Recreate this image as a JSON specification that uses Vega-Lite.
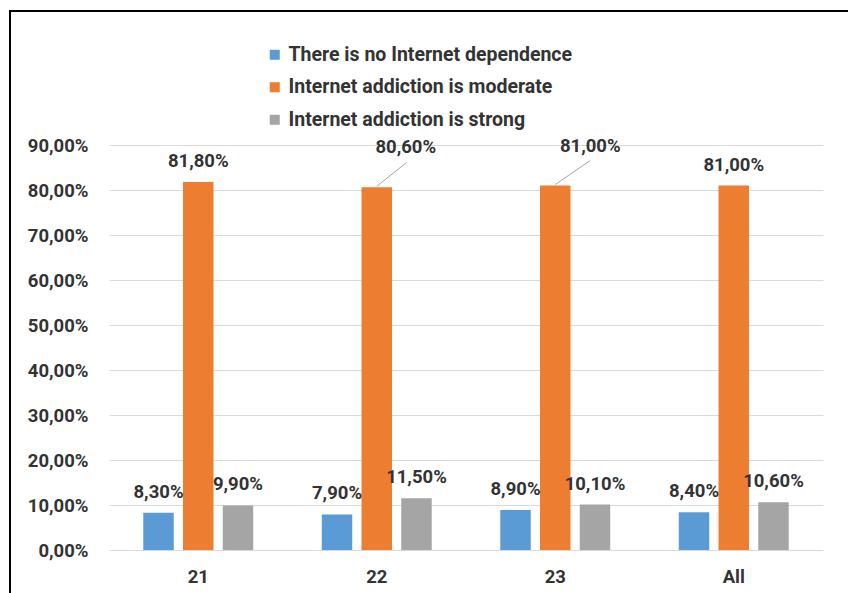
{
  "$schema": "https://vega.github.io/schema/vega-lite/v6.json",
  "width": 840,
  "height": 600,
  "padding": {"left": 10, "top": 11, "right": 0, "bottom": 0},
  "autosize": {"type": "pad"},
  "background": "#ffffff",
  "config": {
    "locale": {"number": {"decimal": ",", "thousands": " ", "grouping": [3], "currency": ["", ""]}},
    "view": {"stroke": "#000000", "strokeWidth": 2},
    "font": "Roboto",
    "text": {"font": "Roboto", "fontSize": 18.5, "fontWeight": "bold", "fill": "#333333"}
  },
  "data": {
    "values": [
      {"group": "21", "series": "There is no Internet dependence", "value": 0.083},
      {"group": "21", "series": "Internet addiction is moderate", "value": 0.818},
      {"group": "21", "series": "Internet addiction is strong", "value": 0.099},
      {"group": "22", "series": "There is no Internet dependence", "value": 0.079},
      {"group": "22", "series": "Internet addiction is moderate", "value": 0.806},
      {"group": "22", "series": "Internet addiction is strong", "value": 0.115},
      {"group": "23", "series": "There is no Internet dependence", "value": 0.089},
      {"group": "23", "series": "Internet addiction is moderate", "value": 0.81},
      {"group": "23", "series": "Internet addiction is strong", "value": 0.101},
      {"group": "All", "series": "There is no Internet dependence", "value": 0.084},
      {"group": "All", "series": "Internet addiction is moderate", "value": 0.81},
      {"group": "All", "series": "Internet addiction is strong", "value": 0.106}
    ]
  },
  "encoding": {
    "x": {
      "field": "group", "type": "nominal", "sort": ["21", "22", "23", "All"],
      "scale": {"range": [99, 813], "paddingInner": 0.384, "paddingOuter": 0.192},
      "axis": {"title": null, "labelAngle": 0, "domain": false, "ticks": false, "grid": false, "offset": -61, "labelPadding": 17, "labelFontSize": 18.5, "labelFontWeight": "bold", "labelColor": "#333333", "labelFont": "Roboto"}
    },
    "xOffset": {
      "field": "series", "type": "nominal",
      "sort": ["There is no Internet dependence", "Internet addiction is moderate", "Internet addiction is strong"],
      "scale": {"paddingInner": 0.233}
    },
    "y": {
      "field": "value", "type": "quantitative",
      "scale": {"domain": [0, 0.9], "range": [539, 134], "nice": false, "zero": true},
      "axis": {"title": null, "format": ".2%", "values": [0, 0.1, 0.2, 0.3, 0.4, 0.5, 0.6, 0.7, 0.8, 0.9], "offset": -99, "domain": false, "ticks": false, "labelPadding": 21, "gridColor": "#D9D9D9", "gridWidth": 1, "labelFontSize": 18.5, "labelFontWeight": "bold", "labelColor": "#333333", "labelFont": "Roboto"}
    }
  },
  "layer": [
    {
      "mark": {"type": "bar"},
      "encoding": {
        "color": {
          "field": "series", "type": "nominal",
          "scale": {"domain": ["There is no Internet dependence", "Internet addiction is moderate", "Internet addiction is strong"], "range": ["#5B9BD5", "#ED7D31", "#A5A5A5"]},
          "legend": {"title": null, "orient": "none", "direction": "vertical", "legendX": 255, "legendY": 34, "symbolType": "square", "symbolSize": 100, "symbolStrokeWidth": 0, "labelFontSize": 19.5, "labelFontWeight": "bold", "labelColor": "#333333", "labelFont": "Roboto", "rowPadding": 11.5, "labelOffset": 4, "padding": 0, "labelLimit": 400}
        }
      }
    },
    {
      "transform": [{"filter": "!(datum.series == 'Internet addiction is moderate' && (datum.group == '22' || datum.group == '23'))"}],
      "mark": {"type": "text", "dy": -21, "baseline": "middle"},
      "encoding": {"text": {"field": "value", "type": "quantitative", "format": ".2%"}}
    },
    {
      "transform": [{"filter": "datum.series == 'Internet addiction is moderate' && datum.group == '22'"}],
      "mark": {"type": "text", "dx": 29, "dy": -40, "baseline": "middle"},
      "encoding": {"text": {"field": "value", "type": "quantitative", "format": ".2%"}}
    },
    {
      "transform": [{"filter": "datum.series == 'Internet addiction is moderate' && datum.group == '23'"}],
      "mark": {"type": "text", "dx": 35, "dy": -40, "baseline": "middle"},
      "encoding": {"text": {"field": "value", "type": "quantitative", "format": ".2%"}}
    },
    {
      "transform": [{"filter": "datum.series == 'Internet addiction is moderate' && datum.group == '22'"}],
      "mark": {"type": "rule", "color": "#A6A6A6", "strokeWidth": 1, "yOffset": -1, "x2Offset": 30, "y2Offset": -25},
      "encoding": {"x2": {"field": "group"}, "y2": {"field": "value"}}
    },
    {
      "transform": [{"filter": "datum.series == 'Internet addiction is moderate' && datum.group == '23'"}],
      "mark": {"type": "rule", "color": "#A6A6A6", "strokeWidth": 1, "yOffset": -1, "x2Offset": 35, "y2Offset": -25},
      "encoding": {"x2": {"field": "group"}, "y2": {"field": "value"}}
    }
  ]
}
